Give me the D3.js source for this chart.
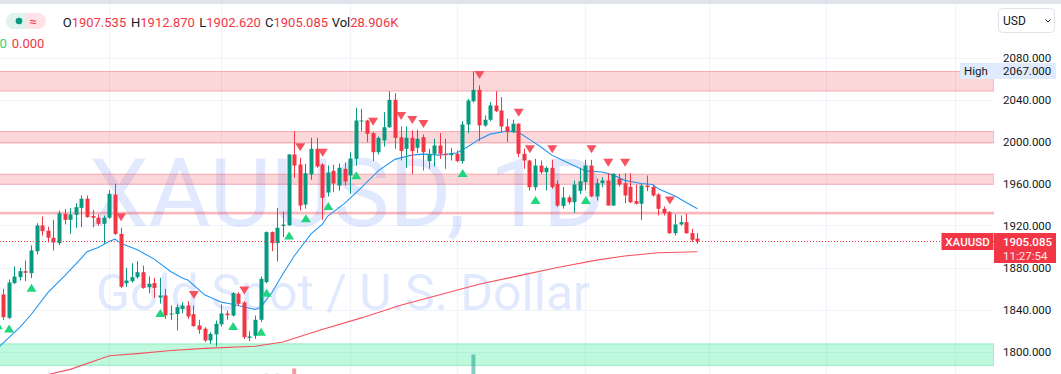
<!DOCTYPE html>
<html>
<head>
<meta charset="utf-8">
<script src="https://cdn.jsdelivr.net/npm/d3@7"></script>
<style>
	body { margin: 0; background: #fff; overflow: hidden; }
	svg { display: block; font-family: Roboto, "Liberation Sans", sans-serif; }
</style>
</head>
<body>
<svg id="chart"></svg>
<script>

// daily candles, Jan 4 -> Jun 29 (first one sits just off the left edge)
var opens = [1839, 1854.3, 1832.1, 1865.1, 1870.8, 1876.5, 1874.6, 1895.5, 1920, 1915, 1908.3, 1903.2, 1931.1, 1925.4, 1930.2, 1936.8, 1945.5, 1929.1, 1927.4, 1921.6,
	1927.4, 1949.5, 1912, 1865.1, 1867, 1870.8, 1875.5, 1861.3, 1865.1, 1851.4, 1853.4, 1835.6, 1835.6, 1840.6, 1843.8, 1835.6, 1824.8, 1821.7, 1810.5, 1816.3,
	1825.9, 1836.2, 1834.3, 1855, 1846.7, 1813, 1815, 1830.2, 1866.1, 1913.7, 1903.2, 1919.6, 1920.2, 1987.6, 1978.1, 1940, 1968.6, 1993, 1978.1, 1951.4,
	1972, 1958, 1974, 1967.6, 1983.5, 2019.4, 2020, 2008, 1989.8, 2001, 2013.6, 2039.7, 2004, 1993, 2003.5, 1994, 2004.1, 1981.3, 1988.3, 1996.2,
	1988.3, 1987, 1988.3, 1981.3, 2016.2, 2038.4, 2049.2, 2015.3, 2020.7, 2034.3, 2029.5, 2014.3, 2008.9, 2016.9, 1988.3, 1981.9, 1956.5, 1977.1, 1970.8, 1974.9,
	1959.7, 1938.7, 1946.7, 1942.2, 1953, 1961.3, 1977.1, 1947.6, 1960.3, 1962.9, 1939, 1964.5, 1960.3, 1956.8, 1943.2, 1940.7, 1958.1, 1956.8, 1949.5, 1935.9,
	1932.7, 1912.7, 1921, 1923.2, 1912.7, 1907.535];
var highs = [1848, 1859.7, 1868.6, 1881, 1879.7, 1886.7, 1901, 1922.2, 1928.6, 1918.8, 1925.4, 1934.3, 1935.6, 1936.8, 1941.3, 1948.6, 1948.6, 1934.9, 1930.5, 1929.5,
	1954, 1959.7, 1917.8, 1879.7, 1884.1, 1886, 1881.9, 1871.4, 1870.2, 1870.2, 1859.7, 1843.8, 1844.8, 1847, 1848, 1843.8, 1830.2, 1823.2, 1818.4, 1829.5,
	1844.8, 1839, 1856.5, 1856.5, 1848, 1819.3, 1834.3, 1871.4, 1914.3, 1914.3, 1936.8, 1933.3, 1988, 2009.8, 1984.5, 1978.7, 2003.5, 2003.5, 1979.4, 1977.1,
	1978, 1979, 1980, 1989.8, 2032.1, 2031.1, 2020.7, 2008.9, 2004.8, 2027.9, 2047.9, 2046, 2014.3, 2014.3, 2010.5, 2011.2, 2006.7, 1993, 2002.6, 2008,
	2002.6, 1994, 1991.4, 2019.4, 2040.7, 2067, 2053.3, 2024.8, 2037.4, 2047.9, 2042.2, 2021.6, 2020.7, 2017.4, 1993, 1982.6, 1983.5, 1981.9, 1976.2, 1982.6,
	1962.9, 1956.6, 1948.6, 1962.9, 1975, 1982.6, 1982.6, 1964.5, 1966, 1969.8, 1969.8, 1969.2, 1969.8, 1969.8, 1959, 1959.7, 1967.6, 1958.7, 1950.8, 1938.1,
	1933.7, 1930.5, 1929.5, 1931.1, 1916.9, 1912.87];
var lows = [1834, 1830.2, 1831, 1864.5, 1867.6, 1867, 1869.8, 1892.4, 1910.5, 1903.8, 1896.2, 1901.3, 1921, 1912, 1917.8, 1918.4, 1927.4, 1918.4, 1920, 1902.6,
	1926.4, 1911, 1860.4, 1861.6, 1865.7, 1869.2, 1859.7, 1855.5, 1851, 1845.6, 1831, 1830, 1820, 1836.5, 1831, 1823.5, 1816.8, 1808.9, 1807.3, 1804.8,
	1823.9, 1830.2, 1833.3, 1843.8, 1812, 1810, 1812.1, 1827.9, 1865, 1895.5, 1885.8, 1908.9, 1919.6, 1965.4, 1934.3, 1936, 1963.6, 1975, 1925.4, 1947.6,
	1952, 1953, 1958, 1950.2, 1977, 2009.8, 1999.3, 1981.3, 1987.6, 1995.2, 2013, 1993, 1981.9, 1975, 1969.2, 1988.9, 1972.4, 1974, 1976.2, 1983.5,
	1974, 1981.9, 1980.3, 1979, 2008, 2037, 2000.3, 2014, 2019.4, 2027.9, 2008.9, 1999.3, 2008, 1985.1, 1974, 1953.3, 1953.3, 1969.2, 1953.3, 1955,
	1937.5, 1936, 1940, 1932, 1950, 1953.3, 1947, 1943.8, 1956.5, 1939, 1939, 1957, 1941.3, 1941.3, 1940, 1925.4, 1952.7, 1947.6, 1929.5, 1929.5,
	1912, 1910.5, 1920, 1912, 1904.1, 1902.62];
var closes = [1846, 1832.7, 1865.7, 1871.4, 1876.5, 1875, 1896.2, 1920, 1914.6, 1908.3, 1903.8, 1931.7, 1925.4, 1930.5, 1937.5, 1945.5, 1928, 1927.4, 1921.6, 1927.4,
	1950.2, 1912, 1861.6, 1867.6, 1870.8, 1875.5, 1860.6, 1864.5, 1860.6, 1853.4, 1834.3, 1836.2, 1842.2, 1843.8, 1833.3, 1824.2, 1820.7, 1810.5, 1816.8, 1826.4,
	1836.2, 1834.6, 1855.6, 1845.4, 1813.7, 1814.3, 1830.2, 1869.2, 1913.7, 1903.2, 1917.8, 1920.9, 1987.6, 1977.1, 1939, 1969.8, 1993, 1976.2, 1946.4, 1970.5,
	1960, 1975, 1962, 1983.8, 2020, 2020, 2007.3, 1989.8, 2003.5, 2013.6, 2039.7, 2003.5, 1991, 2003.5, 1990.8, 2002.6, 1989.8, 1988.3, 1996.2, 1988.3,
	1987, 1988.3, 1981.3, 2016.2, 2039, 2049.2, 2015.3, 2020.7, 2034.3, 2028.9, 2014.3, 2008.9, 2016.9, 1988.3, 1981.9, 1956.5, 1977.1, 1970.8, 1974.9, 1956.5,
	1939, 1946.7, 1942.2, 1959, 1962, 1977.1, 1947.6, 1960.3, 1962.9, 1939, 1969.2, 1959, 1948.6, 1942.2, 1940.7, 1958.1, 1956.5, 1948.6, 1935.9, 1931.7,
	1912.7, 1921, 1923.2, 1912.7, 1906.4, 1905.085];

// signal bars (indexes into the arrays above)
var buySignals = [0, 2, 6, 29, 42, 47, 48, 52, 55, 59, 64, 83, 96, 105];
var sellSignals = [22, 35, 44, 54, 58, 67, 72, 74, 76, 86, 93, 95, 99, 106, 109, 112, 120];

// moving averages: bar index / value
var maFastIdx = [0, 2, 4, 6, 9, 12, 15, 16, 18, 20, 21, 22, 25, 28, 31, 33, 34, 37, 40, 42, 46, 47, 49, 51, 53, 56, 58, 59, 62, 65, 68, 71, 74, 76, 79, 82, 84, 86, 88, 91, 93, 95, 97, 99, 101, 103, 105, 108, 110, 112, 115, 117, 118, 121, 123, 125];
var maFastVal = [1803, 1813, 1823, 1835, 1856, 1872, 1889, 1895, 1899, 1905, 1907, 1903, 1897, 1888, 1876, 1870, 1868, 1854, 1847, 1845, 1840, 1842, 1856, 1874, 1891, 1912, 1921, 1929, 1941, 1956, 1972, 1983, 1987, 1988, 1987, 1989, 1995, 2002, 2007, 2010, 2009, 2002, 1995, 1987, 1982, 1977, 1972, 1971, 1968, 1963, 1960, 1959, 1955, 1948, 1942, 1936];
var maSlowIdx = [0, 9, 13, 20, 25, 31, 37, 46, 51, 55, 58, 65, 72, 79, 86, 93, 100, 107, 112, 118, 125];
var maSlowVal = [1767, 1778, 1783, 1796, 1798, 1801, 1803, 1805, 1809, 1816, 1821, 1832, 1844, 1854, 1864, 1872, 1880, 1887, 1891, 1894, 1895];

// supply / demand zones
var zoneHigh = [2066.7, 2009.5, 1968.9, 1932.6, 1807.3];
var zoneLow = [2048.0, 1998.6, 1959.3, 1931.0, 1786.8];
var zoneType = ["sell", "sell", "sell", "sell", "buy"];

// the few volume bars that reach into view (K)
var volIdx = [48, 50, 53, 85];
var volVal = [150, 150, 180, 260];

// month starts (bar index) for the vertical grid
var monthStarts = [20, 40, 63, 82, 105, 127, 148, 171];
var priceTicks = [1800, 1840, 1880, 1920, 1960, 2000, 2040, 2080];

var lastBar = { o: "1907.535", h: "1912.870", l: "1902.620", c: "1905.085", vol: "28.906K" };
var visibleHigh = 2067;


var width = 1061,
	height = 374,
	paneW = 994,
	up = "#089981",
	down = "#f23645";

var svg = d3.select("#chart").attr("width", width).attr("height", height);

var x = d3.scaleLinear().domain([0, 125]).range([-2.6, 697.4]);
var y = d3.scaleLinear().domain([1800, 2080]).range([351.5, 57.5]);
var yVol = d3.scaleLinear().domain([0, 400]).range([400, 330]);

var bars = opens.map((o, i) => ({ i: i, o: o, h: highs[i], l: lows[i], c: closes[i] }));

var pane = svg.append("g");
pane.append("clipPath").attr("id", "paneClip")
	.append("rect").attr("x", 0).attr("y", 0).attr("width", paneW).attr("height", height);
pane.attr("clip-path", "url(#paneClip)");

// grid
pane.append("g")
	.selectAll("line")
	.data(priceTicks)
	.join("line")
	.attr("x1", 0).attr("x2", paneW)
	.attr("y1", d => Math.round(y(d)) + 0.5).attr("y2", d => Math.round(y(d)) + 0.5)
	.attr("stroke", "#f0f3fa");
pane.append("g")
	.selectAll("line")
	.data(monthStarts)
	.join("line")
	.attr("x1", d => Math.round(x(d)) + 0.5).attr("x2", d => Math.round(x(d)) + 0.5)
	.attr("y1", 0).attr("y2", height)
	.attr("stroke", "#f0f3fa");

// watermark
var wm = pane.append("g").attr("fill", "rgba(41,98,255,0.14)").attr("text-anchor", "middle");
wm.append("text").attr("x", 347).attr("y", 226).attr("font-size", 95).text("XAUUSD, 1D");
wm.append("text").attr("x", 343).attr("y", 310).attr("font-size", 50).text("Gold Spot / U.S. Dollar");

// zones
pane.append("g")
	.selectAll("rect")
	.data(zoneHigh)
	.join("rect")
	.attr("x", -2).attr("width", paneW + 2)
	.attr("y", d => y(d))
	.attr("height", (d, i) => y(zoneLow[i]) - y(d))
	.attr("fill", (d, i) => zoneType[i] == "sell" ? "rgba(242,54,69,0.2)" : "rgba(0,230,118,0.25)")
	.attr("stroke", (d, i) => zoneType[i] == "sell" ? "rgba(242,54,69,0.35)" : "rgba(0,200,110,0.35)")
	.attr("stroke-width", 1);

// volume
pane.append("g")
	.selectAll("rect")
	.data(volIdx)
	.join("rect")
	.attr("x", d => x(d) - 2).attr("width", 4)
	.attr("y", (d, i) => yVol(volVal[i]))
	.attr("height", (d, i) => yVol(0) - yVol(volVal[i]))
	.attr("fill", d => closes[d] >= opens[d] ? "rgba(8,153,129,0.5)" : "rgba(242,54,69,0.5)");

// moving averages
var lineGen = d3.line().x(d => x(d[0])).y(d => y(d[1]));
pane.append("path")
	.datum(maSlowIdx.map((d, i) => [d, maSlowVal[i]]))
	.attr("d", lineGen)
	.attr("fill", "none").attr("stroke", "#f7525f").attr("stroke-width", 1.1);
pane.append("path")
	.datum(maFastIdx.map((d, i) => [d, maFastVal[i]]))
	.attr("d", lineGen)
	.attr("fill", "none").attr("stroke", "#2196f3").attr("stroke-width", 1.1);

// candles
var candle = pane.append("g")
	.selectAll("g")
	.data(bars)
	.join("g")
	.attr("fill", d => d.c >= d.o ? up : down)
	.attr("stroke", d => d.c >= d.o ? up : down);
candle.append("line")
	.attr("x1", d => Math.round(x(d.i)) + 0.5).attr("x2", d => Math.round(x(d.i)) + 0.5)
	.attr("y1", d => y(d.h)).attr("y2", d => y(d.l));
candle.append("rect")
	.attr("stroke", "none")
	.attr("x", d => Math.round(x(d.i)) - 1.5).attr("width", 4)
	.attr("y", d => y(Math.max(d.o, d.c)))
	.attr("height", d => Math.max(1, Math.abs(y(d.o) - y(d.c))));

// signals
pane.append("g")
	.selectAll("path")
	.data(buySignals)
	.join("path")
	.attr("fill", "#1fd67e")
	.attr("d", d => {
		var cx = x(d) + 0.5, t = y(lows[d]) + 5.5;
		return "M" + cx + "," + t + "L" + (cx + 5) + "," + (t + 8) + "L" + (cx - 5) + "," + (t + 8) + "Z";
	});
pane.append("g")
	.selectAll("path")
	.data(sellSignals)
	.join("path")
	.attr("fill", "#f7525f")
	.attr("d", d => {
		var cx = x(d) + 0.5, b = y(highs[d]) - 6.5;
		return "M" + cx + "," + b + "L" + (cx + 5) + "," + (b - 8) + "L" + (cx - 5) + "," + (b - 8) + "Z";
	});

// last price line
var lastY = y(closes[closes.length - 1]);
pane.append("line")
	.attr("x1", 0).attr("x2", paneW)
	.attr("y1", Math.round(lastY) + 0.5).attr("y2", Math.round(lastY) + 0.5)
	.attr("stroke", down).attr("stroke-dasharray", "1,2");

// price scale
var scale = svg.append("g").attr("font-size", 11.5).attr("fill", "#131722");
scale.selectAll("text")
	.data(priceTicks)
	.join("text")
	.attr("x", 1003).attr("y", d => y(d))
	.attr("dy", "0.35em")
	.text(d => d3.format(".3f")(d));

// high marker
var hy = Math.round(y(visibleHigh));
svg.append("rect").attr("x", 960).attr("y", hy - 8).attr("width", 34).attr("height", 16).attr("fill", "#dfeafc");
svg.append("rect").attr("x", 994).attr("y", hy - 8).attr("width", 62).attr("height", 16).attr("fill", "#dfeafc");
svg.append("text").attr("x", 964).attr("y", hy).attr("dy", "0.35em").attr("font-size", 11.5).attr("fill", "#131722").text("High");
svg.append("text").attr("x", 1003).attr("y", hy).attr("dy", "0.35em").attr("font-size", 11.5).attr("fill", "#131722").text(d3.format(".3f")(visibleHigh));

// last price label
var ly = Math.round(lastY);
svg.append("rect").attr("x", 941.5).attr("y", ly - 8).attr("width", 52).attr("height", 17).attr("fill", down);
svg.append("text").attr("x", 967.5).attr("y", ly + 0.5).attr("dy", "0.35em").attr("text-anchor", "middle")
	.attr("font-size", 11.5).attr("font-weight", 500).attr("fill", "#fff").text("XAUUSD");
svg.append("rect").attr("x", 994).attr("y", ly - 8).attr("width", 62).attr("height", 30).attr("fill", down);
svg.append("text").attr("x", 1003).attr("y", ly + 0.5).attr("dy", "0.35em")
	.attr("font-size", 11.5).attr("font-weight", 500).attr("fill", "#fff").text(lastBar.c);
svg.append("text").attr("x", 1003).attr("y", ly + 14.5).attr("dy", "0.35em")
	.attr("font-size", 11.5).attr("fill", "#fde4e6").text("11:27:54");

// currency box
svg.append("rect").attr("x", 998.5).attr("y", 8.5).attr("width", 56).attr("height", 24).attr("rx", 4)
	.attr("fill", "#fff").attr("stroke", "#e0e3eb");
svg.append("text").attr("x", 1003).attr("y", 21).attr("dy", "0.35em").attr("font-size", 12).attr("fill", "#131722").text("USD");
svg.append("path").attr("d", "M1045.5,19.5l2.5,2.5l2.5,-2.5").attr("fill", "none").attr("stroke", "#131722");

// top strip
svg.append("rect").attr("x", 0).attr("y", 0).attr("width", width).attr("height", 4).attr("fill", "#e0e3eb");

// legend
svg.append("clipPath").attr("id", "pill")
	.append("rect").attr("x", 6).attr("y", 13).attr("width", 40).attr("height", 16).attr("rx", 8);
var pill = svg.append("g").attr("clip-path", "url(#pill)");
pill.append("rect").attr("x", 6).attr("y", 13).attr("width", 20).attr("height", 16).attr("fill", "#dff3ee");
pill.append("rect").attr("x", 26).attr("y", 13).attr("width", 20).attr("height", 16).attr("fill", "#fde3e6");
svg.append("circle").attr("cx", 19).attr("cy", 21).attr("r", 3.3).attr("fill", up);
svg.append("text").attr("x", 33).attr("y", 21).attr("dy", "0.35em").attr("text-anchor", "middle")
	.attr("font-size", 13).attr("fill", down).text("≈");

var legend = svg.append("text").attr("y", 27).attr("font-size", 13);
[["O", lastBar.o, 62.7], ["H", lastBar.h, 131], ["L", lastBar.l, 199.3], ["C", lastBar.c, 265], ["Vol", lastBar.vol, 331.7]].forEach(d => {
	legend.append("tspan").attr("x", d[2]).attr("fill", "#131722").text(d[0]);
	legend.append("tspan").attr("fill", down).text(d[1]);
});

var row2 = svg.append("text").attr("y", 48).attr("font-size", 13);
row2.append("tspan").attr("x", -0.5).attr("fill", "#1fd67e").text("0");
row2.append("tspan").attr("x", 11.7).attr("fill", down).text("0.000");

</script>
</body>
</html>
